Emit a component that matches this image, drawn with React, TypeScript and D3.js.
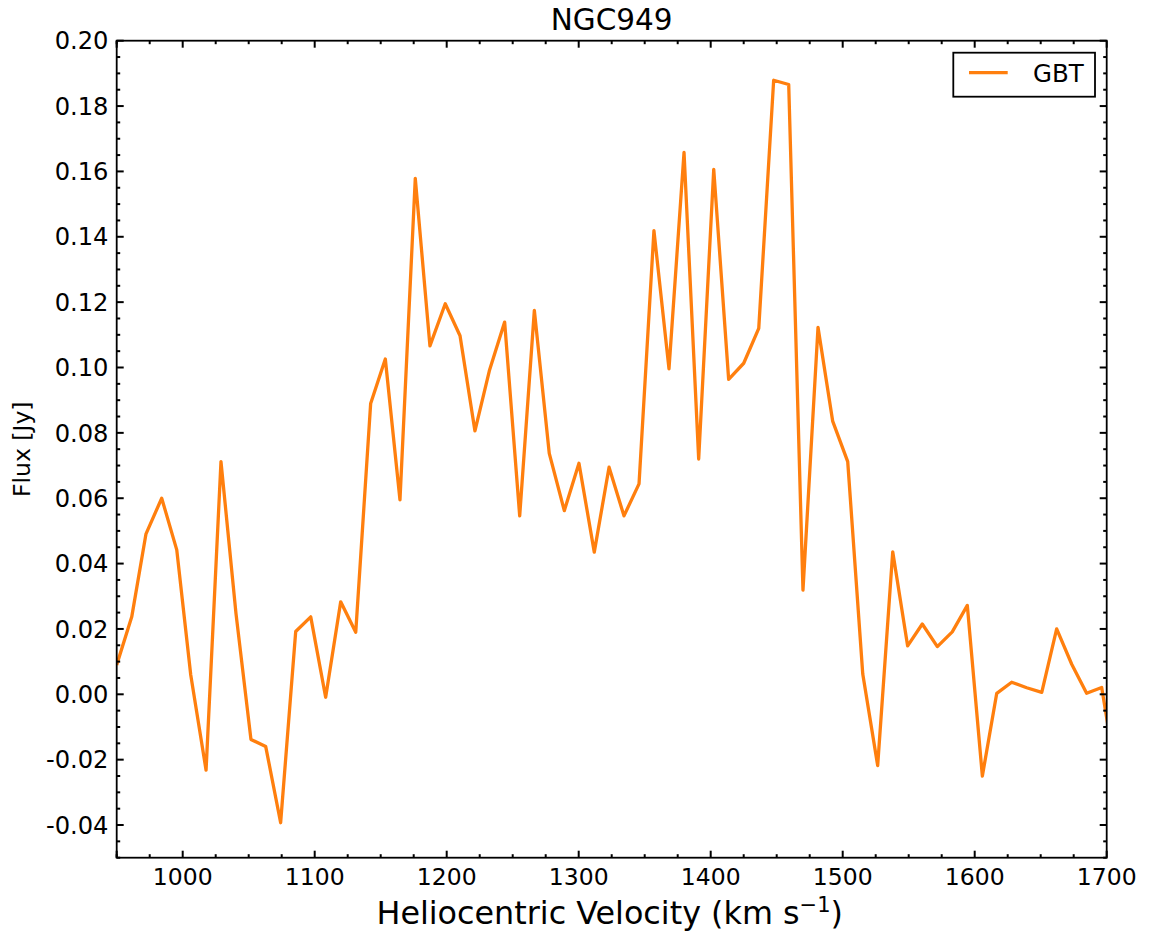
import React from "react";
import * as d3 from "d3";

const velocity: number[] = [
  950.0, 961.4, 972.2, 984.1, 995.5, 1006.1, 1017.7, 1029.0, 1040.4, 1051.7,
  1062.9, 1074.2, 1085.6, 1097.0, 1108.3, 1119.7, 1131.1, 1142.4, 1153.5, 1164.6,
  1176.2, 1187.3, 1198.9, 1210.1, 1221.4, 1232.3, 1243.9, 1255.3, 1266.4, 1277.7,
  1289.1, 1300.2, 1311.8, 1323.0, 1334.3, 1345.7, 1357.0, 1368.4, 1379.8, 1390.9,
  1402.3, 1413.6, 1425.0, 1436.4, 1447.7, 1459.1, 1469.9, 1481.3, 1492.4, 1503.8,
  1515.2, 1526.5, 1537.9, 1549.2, 1560.3, 1571.7, 1583.0, 1594.4, 1605.8, 1616.7,
  1628.0, 1639.4, 1650.8, 1662.1, 1673.5, 1684.8, 1696.2, 1707.6,
];

const flux: number[] = [
  0.009, 0.0237, 0.0491, 0.06, 0.0442, 0.0059, -0.0232, 0.0712, 0.0246, -0.0138,
  -0.016, -0.0393, 0.0192, 0.0237, -0.0009, 0.0283, 0.019, 0.089, 0.1026, 0.0595,
  0.1579, 0.1066, 0.1195, 0.1097, 0.0806, 0.099, 0.1139, 0.0546, 0.1175, 0.0737,
  0.0562, 0.0707, 0.0435, 0.0695, 0.0546, 0.0644, 0.1419, 0.0996, 0.1658, 0.072,
  0.1606, 0.0964, 0.1013, 0.112, 0.1879, 0.1866, 0.0319, 0.1123, 0.0836, 0.0712,
  0.0062, -0.0218, 0.0436, 0.0148, 0.0215, 0.0146, 0.0191, 0.0272, -0.025, 0.0003,
  0.0037, 0.002, 0.0006, 0.02, 0.0092, 0.0003, 0.0021, -0.026,
];

const xTicks: number[] = [1000, 1100, 1200, 1300, 1400, 1500, 1600, 1700];
const yTicks: number[] = [-0.04, -0.02, 0.0, 0.02, 0.04, 0.06, 0.08, 0.1, 0.12, 0.14, 0.16, 0.18, 0.2];

const title = "NGC949";
const seriesName = "GBT";
const xDomain: [number, number] = [950, 1700];
const yDomain: [number, number] = [-0.05, 0.2];

const W = 1152;
const H = 936;
const L = 116.7;
const R = 1106.7;
const T = 40.7;
const B = 857.7;
const FONT = "'DejaVu Sans', sans-serif";
const ORANGE = "#ff7f0e";

export default function App() {
  const x = d3.scaleLinear().domain(xDomain).range([L, R]);
  const y = d3.scaleLinear().domain(yDomain).range([B, T]);
  const pts: [number, number][] = velocity.map((v, i) => [v, flux[i]]);
  const line = d3
    .line<[number, number]>()
    .x((d) => x(d[0]))
    .y((d) => y(d[1]));

  const xMinor = d3.range(950, 1700.01, 25).filter((v) => v % 100 !== 0);
  const yMinor = d3
    .range(-0.05, 0.2001, 0.005)
    .filter((v) => Math.abs(Math.round(v * 1000) % 20) !== 0);

  const majLen = 7;
  const minLen = 3.5;
  const tickW = 2;

  const fmt = (v: number) => {
    const s = v.toFixed(2);
    return s === "-0.00" ? "0.00" : s;
  };

  return (
    <svg width={W} height={H} style={{ position: "absolute", left: 0, top: 0, background: "#fff" }}>
      <defs>
        <clipPath id="plotclip">
          <rect x={L} y={T} width={R - L} height={B - T} />
        </clipPath>
      </defs>
      <rect x={0} y={0} width={W} height={H} fill="#fff" />
      <path
        d={line(pts) || ""}
        fill="none"
        stroke={ORANGE}
        strokeWidth={3.3}
        strokeLinejoin="round"
        clipPath="url(#plotclip)"
      />
      {/* ticks */}
      {xTicks.concat([950]).map((v) => (
        <g key={"xt" + v}>
          <line x1={x(v)} x2={x(v)} y1={B} y2={B - majLen} stroke="#000" strokeWidth={tickW} />
          <line x1={x(v)} x2={x(v)} y1={T} y2={T + majLen} stroke="#000" strokeWidth={tickW} />
        </g>
      ))}
      {xMinor.map((v) => (
        <g key={"xm" + v}>
          <line x1={x(v)} x2={x(v)} y1={B} y2={B - minLen} stroke="#000" strokeWidth={tickW} />
          <line x1={x(v)} x2={x(v)} y1={T} y2={T + minLen} stroke="#000" strokeWidth={tickW} />
        </g>
      ))}
      {yTicks.map((v) => (
        <g key={"yt" + v}>
          <line x1={L} x2={L + majLen} y1={y(v)} y2={y(v)} stroke="#000" strokeWidth={tickW} />
          <line x1={R} x2={R - majLen} y1={y(v)} y2={y(v)} stroke="#000" strokeWidth={tickW} />
        </g>
      ))}
      {yMinor.map((v, i) => (
        <g key={"ym" + i}>
          <line x1={L} x2={L + minLen} y1={y(v)} y2={y(v)} stroke="#000" strokeWidth={tickW} />
          <line x1={R} x2={R - minLen} y1={y(v)} y2={y(v)} stroke="#000" strokeWidth={tickW} />
        </g>
      ))}
      <rect x={L} y={T} width={R - L} height={B - T} fill="none" stroke="#000" strokeWidth={1.8} />
      {/* tick labels */}
      {xTicks.map((v) => (
        <text key={"xl" + v} x={x(v)} y={885} textAnchor="middle" fontFamily={FONT} fontSize={23.5} fill="#000">
          {v}
        </text>
      ))}
      {yTicks.map((v) => (
        <text
          key={"yl" + v}
          x={108.5}
          y={y(v)}
          dy="0.36em"
          textAnchor="end"
          fontFamily={FONT}
          fontSize={24.2}
          fill="#000"
        >
          {fmt(v)}
        </text>
      ))}
      {/* title */}
      <text x={(L + R) / 2} y={30} textAnchor="middle" fontFamily={FONT} fontSize={29.5} fill="#000">
        {title}
      </text>
      {/* axis labels */}
      <text x={(L + R) / 2 - 2} y={924} textAnchor="middle" fontFamily={FONT} fontSize={31.8} fill="#000">
        Heliocentric Velocity (km s
        <tspan dy={-12} fontSize={21}>
          −1
        </tspan>
        <tspan dy={12}>)</tspan>
      </text>
      <text
        transform={`translate(30, ${(T + B) / 2}) rotate(-90)`}
        textAnchor="middle"
        fontFamily={FONT}
        fontSize={23.5}
        fill="#000"
      >
        Flux [Jy]
      </text>
      {/* legend */}
      <rect x={953.3} y={52.7} width={141.7} height={44} fill="#fff" stroke="#000" strokeWidth={1.8} />
      <line x1={969} x2={1007.7} y1={72.7} y2={72.7} stroke={ORANGE} strokeWidth={3.3} />
      <text x={1033} y={81.5} fontFamily={FONT} fontSize={24.5} fill="#000">
        {seriesName}
      </text>
    </svg>
  );
}
